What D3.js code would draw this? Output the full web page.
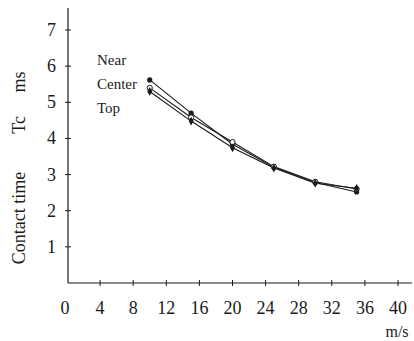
<!DOCTYPE html>
<html>
<head>
<meta charset="utf-8">
<script src="https://cdn.jsdelivr.net/npm/d3@7"></script>
<style>
  body { margin: 0; background: #fff; }
  text { font-family: "Liberation Serif", "DejaVu Serif", serif; fill: #1a1a1a; }
</style>
</head>
<body>
<svg id="chart" width="414" height="341"></svg>
<script>
// speeds (m/s)
let speeds = [10, 15, 20, 25, 30, 35];
// contact time Tc (ms)
let nearVals = [5.62, 4.70, 3.84, 3.20, 2.78, 2.52];
let centerVals = [5.40, 4.58, 3.90, 3.22, 2.80, 2.60];
let topVals = [5.30, 4.48, 3.74, 3.18, 2.76, 2.62];

let xTicks = [0, 4, 8, 12, 16, 20, 24, 28, 32, 36, 40];
let yTicks = [1, 2, 3, 4, 5, 6, 7];

let seriesNames = ["Near", "Center", "Top"];

var svg = d3.select("#chart");

var x = d3.scaleLinear().domain([0, 40]).range([67, 398]);
var y = d3.scaleLinear().domain([0, 7]).range([283, 30]);

var ink = "#1a1a1a";

// axes lines
svg.append("line")
    .attr("x1", 68).attr("x2", 68)
    .attr("y1", 8).attr("y2", 283)
    .attr("stroke", ink).attr("stroke-width", 1.2);
svg.append("line")
    .attr("x1", 68).attr("x2", 412)
    .attr("y1", 283).attr("y2", 283)
    .attr("stroke", ink).attr("stroke-width", 1.2);

// y ticks
svg.selectAll(".ytick")
    .data(yTicks)
    .enter()
    .append("line")
    .attr("x1", 65).attr("x2", 71)
    .attr("y1", d => y(d)).attr("y2", d => y(d))
    .attr("stroke", ink);
svg.selectAll(".ylab")
    .data(yTicks)
    .enter()
    .append("text")
    .attr("x", 56)
    .attr("y", d => y(d) + 6)
    .attr("text-anchor", "end")
    .style("font-size", "18px")
    .text(d => d);

// x ticks
svg.selectAll(".xtick")
    .data(xTicks.slice(1))
    .enter()
    .append("line")
    .attr("x1", d => x(d)).attr("x2", d => x(d))
    .attr("y1", 280).attr("y2", 286)
    .attr("stroke", ink);
svg.selectAll(".xlab")
    .data(xTicks)
    .enter()
    .append("text")
    .attr("x", d => x(d) - (d === 0 ? 2 : 0))
    .attr("y", 314)
    .attr("text-anchor", "middle")
    .style("font-size", "18px")
    .text(d => d);

svg.append("text")
    .attr("x", 397).attr("y", 337)
    .attr("text-anchor", "middle")
    .style("font-size", "16px")
    .text("m/s");

// y title pieces
function vtext(t, cy) {
    svg.append("text")
        .attr("transform", "translate(25," + cy + ") rotate(-90)")
        .attr("text-anchor", "middle")
        .style("font-size", "18px")
        .text(t);
}
vtext("Contact time", 218);
vtext("Tc", 125);
vtext("ms", 82);

// lines
var line = d3.line()
    .x((d, i) => x(speeds[i]))
    .y(d => y(d));

[nearVals, centerVals, topVals].forEach(function(vals) {
    svg.append("path")
        .attr("d", line(vals))
        .attr("fill", "none")
        .attr("stroke", ink)
        .attr("stroke-width", 1.1);
});

// markers
svg.selectAll(".mnear")
    .data(nearVals)
    .enter()
    .append("circle")
    .attr("cx", (d, i) => x(speeds[i]))
    .attr("cy", d => y(d))
    .attr("r", 2.6)
    .attr("fill", ink);

svg.selectAll(".mcenter")
    .data(centerVals)
    .enter()
    .append("circle")
    .attr("cx", (d, i) => x(speeds[i]))
    .attr("cy", d => y(d))
    .attr("r", 2.6)
    .attr("fill", "#fff")
    .attr("stroke", ink)
    .attr("stroke-width", 1);

svg.selectAll(".mtop")
    .data(topVals)
    .enter()
    .append("path")
    .attr("d", d3.symbol().type(d3.symbolDiamond).size(22))
    .attr("transform", (d, i) => "translate(" + x(speeds[i]) + "," + y(d) + ")")
    .attr("fill", ink);

// legend labels
svg.selectAll(".leg")
    .data(seriesNames)
    .enter()
    .append("text")
    .attr("x", 97)
    .attr("y", (d, i) => 65 + i * 24)
    .style("font-size", "15px")
    .text(d => d);
</script>
</body>
</html>
